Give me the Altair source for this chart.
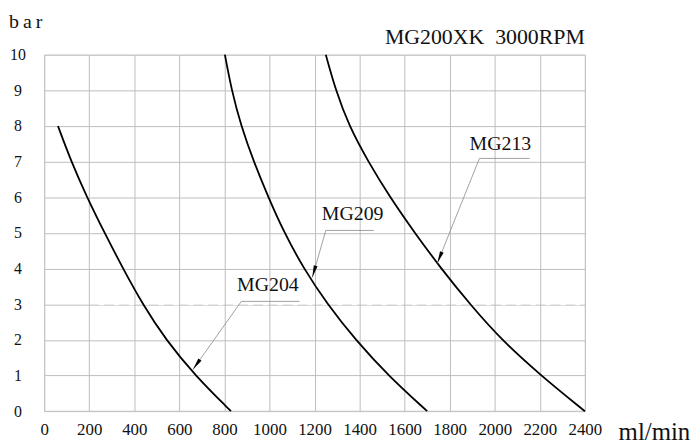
import math
import altair as alt
import pandas as pd

FONT = "Liberation Serif, Times New Roman, serif"

# ---- data ----
mg204_bar = [8, 7, 6, 5, 4, 3, 2, 1, 0]
mg204_flow = [61, 120, 190, 268, 350, 437, 540, 670, 829]

mg209_bar = [10, 9, 8, 7, 6, 5, 4, 3, 2, 1, 0]
mg209_flow = [802, 832, 874, 930, 995, 1066, 1152, 1257, 1382, 1527, 1700]

mg213_bar = [10, 9, 8, 7, 6, 5, 4, 3, 2, 1, 0]
mg213_flow = [1250, 1294, 1353, 1438, 1535, 1645, 1762, 1890, 2030, 2205, 2400]

x_ticks = list(range(0, 2401, 200))
y_ticks = list(range(0, 11))

# annotation labels: text position, underline start/end, arrow tip
ann_names = ["MG204", "MG209", "MG213"]
ann_text_x = [993, 1369, 2025]
ann_text_y = [3.54, 5.53, 7.5]
ann_line_x0 = [875, 1250, 1932]
ann_line_x1 = [1133, 1463, 2155]
ann_line_y = [3.08, 5.07, 7.09]
ann_tip_x = [660, 1190, 1745]
ann_tip_y = [1.17, 3.75, 4.15]

# faint dashed break along the 3 bar line in the reference
band_x = [244]
band_x2 = [2400]
band_y = [3]

W, H = 545, 359.4
XMAX, YMAX = 2400, 10

rows = []
for name, xs, ys in [("MG204", mg204_flow, mg204_bar),
                     ("MG209", mg209_flow, mg209_bar),
                     ("MG213", mg213_flow, mg213_bar)]:
    for xv, yv in zip(xs, ys):
        rows.append({"series": name, "flow": xv, "bar": yv})
curves = pd.DataFrame(rows)

ann = pd.DataFrame({
    "name": ann_names,
    "tx": ann_text_x, "ty": ann_text_y,
    "lx0": ann_line_x0, "lx1": ann_line_x1, "ly": ann_line_y,
    "px": ann_tip_x, "py": ann_tip_y,
})
angles = []
for a, b, c, d in zip(ann_line_x0, ann_line_y, ann_tip_x, ann_tip_y):
    dx = (c - a) * W / XMAX
    dy = -(d - b) * H / YMAX
    angles.append(math.degrees(math.atan2(dx, -dy)) % 360)
ann["angle"] = angles

band = pd.DataFrame({"bx": band_x, "bx2": band_x2, "by": band_y})

xscale = alt.Scale(domain=[0, XMAX], nice=False)
yscale = alt.Scale(domain=[0, YMAX], nice=False)

x_axis = alt.Axis(values=x_ticks, format="d", title="ml/min",
                  titleAngle=0, titleX=578.5, titleY=29,
                  titleAlign="left", titleBaseline="alphabetic",
                  titleFontSize=25, titleFont=FONT, titleFontWeight="normal",
                  titleColor="#111",
                  labelFontSize=17, labelFont=FONT, labelColor="#111",
                  labelPadding=10, labelFlush=False, labelOverlap=False,
                  grid=True, gridColor="#bdbdbd", gridWidth=1,
                  domain=False, ticks=False)
y_axis = alt.Axis(values=y_ticks, format="d", title="b\u2009a\u2009r",
                  titleAngle=0, titleX=-36, titleY=-27,
                  titleAlign="left", titleBaseline="alphabetic",
                  titleFontSize=20, titleFont=FONT, titleFontWeight="normal",
                  titleColor="#111",
                  labelFontSize=16, labelFont=FONT, labelColor="#111",
                  labelAlign="center", labelPadding=27, labelOverlap=False,
                  labelBaseline="middle",
                  grid=True, gridColor="#bdbdbd", gridWidth=1,
                  domain=False, ticks=False)


def X(field):
    return alt.X(field, type="quantitative", scale=xscale, axis=x_axis)


def Y(field):
    return alt.Y(field, type="quantitative", scale=yscale, axis=y_axis)


breaks = alt.Chart(band).mark_rule(color="white", strokeWidth=2,
                                   strokeDash=[5, 10]).encode(
    x=X("bx"), x2="bx2:Q", y=Y("by"))

lines = alt.Chart(curves).mark_line(color="black", strokeWidth=1.8,
                                    interpolate="basis").encode(
    x=X("flow"), y=Y("bar"), detail="series:N", order="flow:Q")

leaders = alt.Chart(ann).mark_rule(color="#8a8a8a", strokeWidth=0.8).encode(
    x=X("lx0"), y=Y("ly"), x2="px:Q", y2="py:Q")

underlines = alt.Chart(ann).mark_rule(color="#8a8a8a", strokeWidth=0.8).encode(
    x=X("lx0"), y=Y("ly"), x2="lx1:Q")

arrows = alt.Chart(ann).mark_point(
    shape="M0,0 L0.32,2 L-0.32,2 Z", filled=True, color="black",
    size=150, opacity=1, strokeWidth=0).encode(
    x=X("px"), y=Y("py"),
    angle=alt.Angle("angle:Q", scale=None))

labels = alt.Chart(ann).mark_text(font=FONT, fontSize=20, color="#111",
                                  baseline="middle", align="center").encode(
    x=X("tx"), y=Y("ty"), text="name:N")

chart = alt.layer(breaks, lines, leaders, underlines, arrows, labels).properties(
    width=W, height=H,
    title=alt.TitleParams("MG200XK\u00a0\u00a03000RPM", anchor="end",
                          frame="group",
                          fontSize=22, font=FONT, fontWeight="normal",
                          color="#111", offset=0, dy=37),
    autosize=alt.AutoSizeParams(type="none"),
    padding={"left": 36.5, "top": 45.3, "right": 108, "bottom": 32},
).configure_view(stroke=None).configure(background="white")

chart.save("out.html", embed_options={"renderer": "svg", "actions": False})
